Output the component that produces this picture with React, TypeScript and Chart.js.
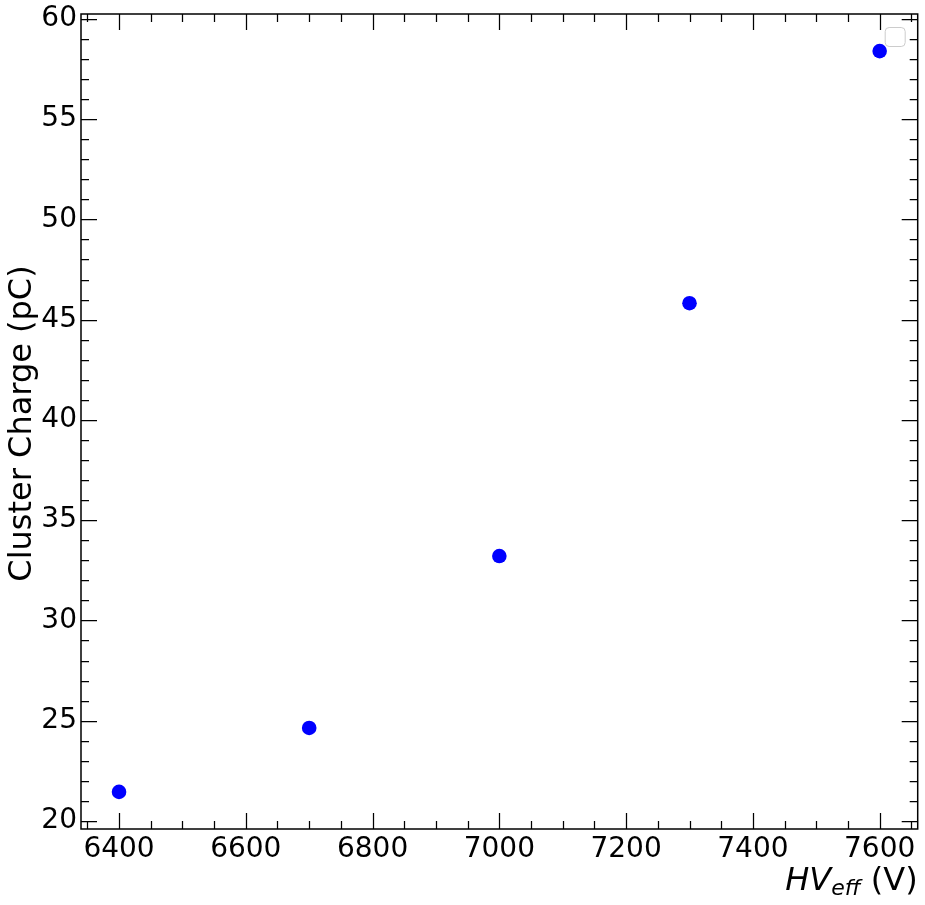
import React, { useEffect, useRef } from "react";
import { Chart, registerables } from "chart.js";

Chart.register(...registerables);

// ---- data ----
const hvEff: number[] = [6400, 6700, 7000, 7300, 7600];
const clusterCharge: number[] = [21.45, 24.64, 33.21, 45.82, 58.39];
const xTickValues: number[] = [6400, 6600, 6800, 7000, 7200, 7400, 7600];
const yTickValues: number[] = [20, 25, 30, 35, 40, 45, 50, 55, 60];
const yAxisLabel = "Cluster Charge (pC)";
const xAxisLabelMain = "HV";
const xAxisLabelSub = "eff";
const xAxisLabelUnit = " (V)";

const X_MIN = 6340;
const X_MAX = 7660;
const Y_MIN = 19.6;
const Y_MAX = 60.24;
const X_MINOR_STEP = 50;
const Y_MINOR_STEP = 1;

const FONT = "'DejaVu Sans', sans-serif";

const framePlugin = {
  id: "mplFrame",
  afterDraw(chart: any) {
    const { ctx, chartArea, scales } = chart;
    const { left, right, top, bottom } = chartArea;
    const xs = scales.x;
    const ys = scales.y;
    const MAJ = 16;
    const MIN = 8;

    ctx.save();
    ctx.strokeStyle = "#000";
    ctx.lineWidth = 1.25;
    // x ticks
    const xMinors: number[] = [];
    for (let v = Math.ceil(X_MIN / X_MINOR_STEP) * X_MINOR_STEP; v <= X_MAX; v += X_MINOR_STEP) xMinors.push(v);
    const drawX = (v: number, len: number) => {
      const px = Math.round(xs.getPixelForValue(v)) + 0.5;
      ctx.beginPath();
      ctx.moveTo(px, bottom);
      ctx.lineTo(px, bottom - len);
      ctx.moveTo(px, top);
      ctx.lineTo(px, top + len);
      ctx.stroke();
    };
    xMinors.forEach((v) => drawX(v, xTickValues.includes(v) ? MAJ : MIN));
    // y ticks
    const yMinors: number[] = [];
    for (let v = Math.ceil(Y_MIN / Y_MINOR_STEP) * Y_MINOR_STEP; v <= Y_MAX; v += Y_MINOR_STEP) yMinors.push(v);
    const drawY = (v: number, len: number) => {
      const py = Math.round(ys.getPixelForValue(v)) + 0.5;
      ctx.beginPath();
      ctx.moveTo(left, py);
      ctx.lineTo(left + len, py);
      ctx.moveTo(right, py);
      ctx.lineTo(right - len, py);
      ctx.stroke();
    };
    yMinors.forEach((v) => drawY(v, yTickValues.includes(v) ? MAJ : MIN));

    // frame
    ctx.lineWidth = 1.5;
    ctx.strokeRect(left, top, right - left, bottom - top);

    // empty legend box (top right)
    ctx.lineWidth = 1;
    ctx.strokeStyle = "#cccccc";
    ctx.fillStyle = "rgba(255,255,255,0.8)";
    const lx = right - 32.5;
    const ly = top + 13.5;
    const lw = 20;
    const lh = 19;
    ctx.beginPath();
    (ctx as any).roundRect(lx, ly, lw, lh, 4);
    ctx.fill();
    ctx.stroke();

    // y axis label
    ctx.fillStyle = "#000";
    ctx.font = `32px ${FONT}`;
    ctx.save();
    ctx.translate(31, (top + bottom) / 2 + 2);
    ctx.rotate(-Math.PI / 2);
    ctx.textAlign = "center";
    ctx.textBaseline = "alphabetic";
    ctx.fillText(yAxisLabel, 0, 0);
    ctx.restore();

    // x axis label (HV_eff (V)), right aligned
    const baseY = 890;
    const fMain = `italic 32px ${FONT}`;
    const fSub = `italic 22px ${FONT}`;
    const fUnit = `32px ${FONT}`;
    ctx.font = fMain;
    const wMain = ctx.measureText(xAxisLabelMain).width;
    ctx.font = fSub;
    const wSub = ctx.measureText(xAxisLabelSub).width;
    ctx.font = fUnit;
    const wUnit = ctx.measureText(xAxisLabelUnit).width;
    let x0 = right - (wMain + wSub + wUnit);
    ctx.textAlign = "left";
    ctx.textBaseline = "alphabetic";
    ctx.font = fMain;
    ctx.fillText(xAxisLabelMain, x0, baseY);
    x0 += wMain;
    ctx.font = fSub;
    ctx.fillText(xAxisLabelSub, x0, baseY + 5);
    x0 += wSub;
    ctx.font = fUnit;
    ctx.fillText(xAxisLabelUnit, x0, baseY);
    ctx.restore();
  },
};

export default function App() {
  const ref = useRef<HTMLCanvasElement | null>(null);

  useEffect(() => {
    document.body.style.margin = "0";
    const canvas = ref.current;
    if (!canvas) return;
    const chart = new Chart(canvas, {
      type: "scatter",
      data: {
        datasets: [
          {
            data: hvEff.map((x, i) => ({ x, y: clusterCharge[i] })),
            backgroundColor: "#0000ff",
            borderColor: "#0000ff",
            borderWidth: 0,
            pointRadius: 7.3,
            pointHoverRadius: 7.3,
          },
        ],
      },
      options: {
        responsive: false,
        animation: false,
        events: [],
        layout: { padding: { left: 0, top: 14, right: 7, bottom: 0 } },
        plugins: { legend: { display: false }, tooltip: { enabled: false } },
        scales: {
          x: {
            type: "linear",
            min: X_MIN,
            max: X_MAX,
            grid: { display: false, drawTicks: false },
            border: { display: false },
            afterBuildTicks: (s: any) => {
              s.ticks = xTickValues.map((v) => ({ value: v }));
            },
            afterFit: (s: any) => {
              s.height = 76;
              s.paddingLeft = 0;
              s.paddingRight = 0;
            },
            ticks: {
              font: { family: FONT, size: 28 },
              color: "#000",
              padding: 4,
              maxRotation: 0,
              autoSkip: false,
              callback: (v: any) => String(v),
            },
          },
          y: {
            type: "linear",
            min: Y_MIN,
            max: Y_MAX,
            grid: { display: false, drawTicks: false },
            border: { display: false },
            afterBuildTicks: (s: any) => {
              s.ticks = yTickValues.map((v) => ({ value: v }));
            },
            afterFit: (s: any) => {
              s.width = 81;
              s.paddingTop = 0;
              s.paddingBottom = 0;
            },
            ticks: {
              font: { family: FONT, size: 28 },
              color: "#000",
              padding: 4,
              autoSkip: false,
              callback: (v: any) => String(v),
            },
          },
        },
      },
      plugins: [framePlugin],
    });
    return () => chart.destroy();
  }, []);

  return (
    <div style={{ position: "absolute", left: 0, top: 0, width: 925, height: 905, background: "#fff" }}>
      <canvas ref={ref} width={925} height={905} style={{ display: "block" }} />
    </div>
  );
}
